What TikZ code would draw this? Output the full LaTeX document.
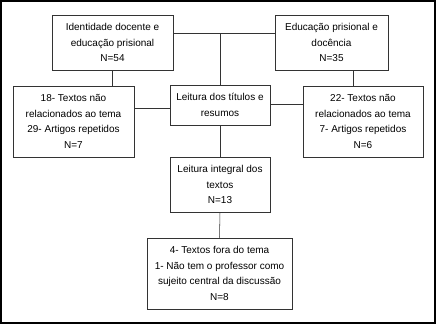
\documentclass[tikz,border=0pt]{standalone}
\usepackage{fontspec}
\setmainfont{Liberation Sans}
\usepackage{tikz}
\usetikzlibrary{positioning}

\begin{document}
\begin{tikzpicture}[x=0.75pt, y=-0.75pt,
    box/.style={draw=black!80, rectangle, align=center, inner sep=0pt,
      font=\fontsize{7.5}{11.6}\selectfont}]
          \useasboundingbox (0,0) rectangle (437,325);
          \draw[line width=1.5pt] (1,1) rectangle (435,323);

          \node[box, minimum width=90.75pt, minimum height=41.25pt] (ident) at (112.5,42.5) {Identidade docente e\\educação prisional\\N=54};
          \node[box, minimum width=84.75pt, minimum height=41.25pt] (educ) at (331.5,42.5) {Educação prisional e\\docência\\N=35};
          \node[box, minimum width=75pt, minimum height=30pt] (titulos) at (220,105) {Leitura dos títulos e\\resumos};
          \node[box, minimum width=90.75pt, minimum height=53.25pt] (excl1) at (73.5,121.5) {18- Textos não\\relacionados ao tema\\29- Artigos repetidos\\N=7};
          \node[box, minimum width=90pt, minimum height=53.25pt] (excl2) at (363,121.5) {22- Textos não\\relacionados ao tema\\7- Artigos repetidos\\N=6};
          \node[box, minimum width=75pt, minimum height=41.25pt] (integral) at (220,184.5) {Leitura integral dos\\textos\\N=13};
          \node[box, minimum width=108.75pt, minimum height=53.25pt] (final) at (219.5,273.5) {4- Textos fora do tema\\1- Não tem o professor como\\sujeito central da discussão\\N=8};
          \coordinate (top) at (220,33);

          \draw[black!80] (ident.east |- top) -- (educ.west |- top);
          \draw[black!80] (top) -- (titulos.north);
          \draw[black!80] (ident.south) -- (ident.south |- excl1.north);
          \draw[black!80] ([xshift=16.1pt]educ.south) -- ([xshift=16.1pt]educ.south |- excl2.north);
          \draw[black!80] ([yshift=-2.25pt]titulos.west) -- ([yshift=-2.25pt]titulos.west -| excl1.east);
          \draw[black!80] ([yshift=0.75pt]titulos.east) -- ([yshift=0.75pt]titulos.east -| excl2.west);
          \draw[black!80] (titulos.south) -- (integral.north);
          \draw[black!80] (integral.south) -- (final.north);
        \end{tikzpicture}
\end{document}
